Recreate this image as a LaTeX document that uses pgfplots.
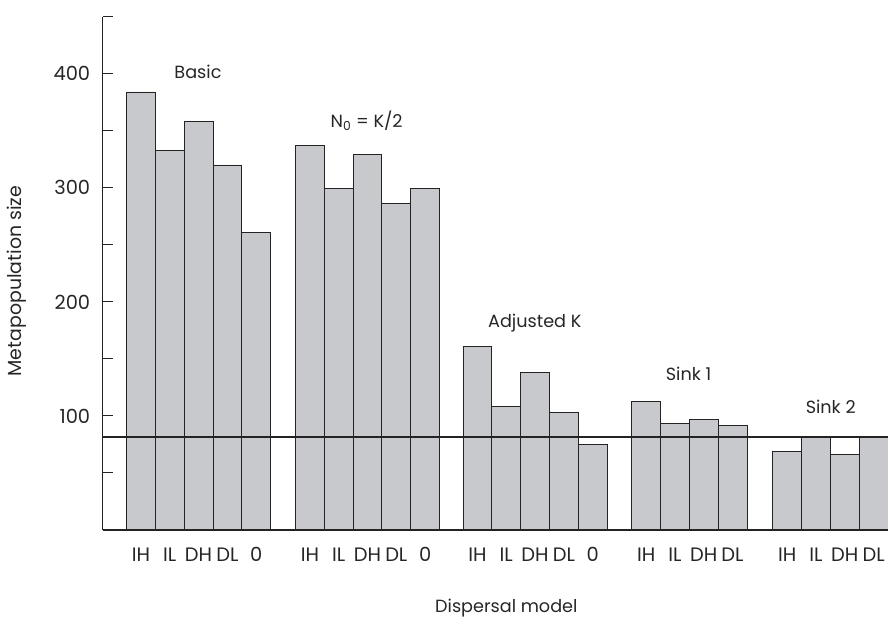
\documentclass[border=0pt]{standalone}
\usepackage{fontspec}
\setmainfont{Poppins}
\usepackage{pgfplots}
\pgfplotsset{compat=1.18}
\definecolor{barfill}{RGB}{200,201,204}
\definecolor{edgec}{RGB}{35,35,35}
\begin{document}
\begin{tikzpicture}
\useasboundingbox (-102.7bp,-89bp) rectangle (785.3bp,530bp);
\begin{axis}[
  anchor=south west, at={(0,0)},
  scale only axis, width=785.3bp, height=513.3bp,
  xmin=-0.83, xmax=26.45, ymin=0, ymax=450,
  axis x line*=bottom, axis y line*=left,
  axis on top,
  axis line style={edgec, line width=1.2bp},
  ytick={100,200,300,400},
  minor ytick={50,150,250,350,450},
  tick align=inside,
  major tick length=10bp, minor tick length=10bp,
  every tick/.style={edgec, line width=1bp},
  /pgf/number format/assume math mode=true,
  ticklabel style={font=\fontsize{19.5}{22}\selectfont, text=black!85},
  yticklabel style={xshift=-9bp},
  xtick={0.5,1.5,2.5,3.5,4.5, 6.37,7.37,8.37,9.37,10.37, 12.19,13.19,14.19,15.19,16.19, 18.05,19.05,20.05,21.05, 22.95,23.95,24.95,25.95},
  xticklabels={IH,IL,DH,DL,0, IH,IL,DH,DL,0, IH,IL,DH,DL,0, IH,IL,DH,DL, IH,IL,DH,DL},
  xticklabel style={yshift=-14bp},
  major x tick style={draw=none},
  ylabel={Metapopulation size},
  xlabel={Dispersal model},
  xlabel style={font=\fontsize{17.7}{20}\selectfont, text=black!85, at={(axis description cs:0.5,0)}, anchor=north, yshift=-66bp, xshift=11bp},
  ylabel style={font=\fontsize{19}{22}\selectfont, text=black!85, at={(axis description cs:0,0.485)}, anchor=south, yshift=73bp},
  clip=true,
]
\addplot[ybar, bar width=1, fill=barfill, draw=edgec, line width=0.9bp] coordinates {
  (0.5,384) (1.5,333) (2.5,358) (3.5,320) (4.5,261)
  (6.37,337) (7.37,299) (8.37,329) (9.37,286) (10.37,299)
  (12.19,161) (13.19,108) (14.19,138) (15.19,103) (16.19,75)
  (18.05,113) (19.05,93) (20.05,97) (21.05,92)
  (22.95,69) (23.95,81) (24.95,66) (25.95,81)
};
\addplot[edgec, line width=2bp] coordinates {(-0.83,81.4) (26.45,81.4)};
\begin{scope}[every node/.style={font=\fontsize{17.7}{20}\selectfont, text=black!85}]
\node at (axis cs:2.48,402) {Basic};
\node at (axis cs:8.34,358.7) {N\textsubscript{0} = K/2};
\node at (axis cs:14.18,181.4) {Adjusted K};
\node at (axis cs:19.52,136.5) {Sink 1};
\node at (axis cs:24.46,107.6) {Sink 2};
\end{scope}
\end{axis}
\end{tikzpicture}
\end{document}
